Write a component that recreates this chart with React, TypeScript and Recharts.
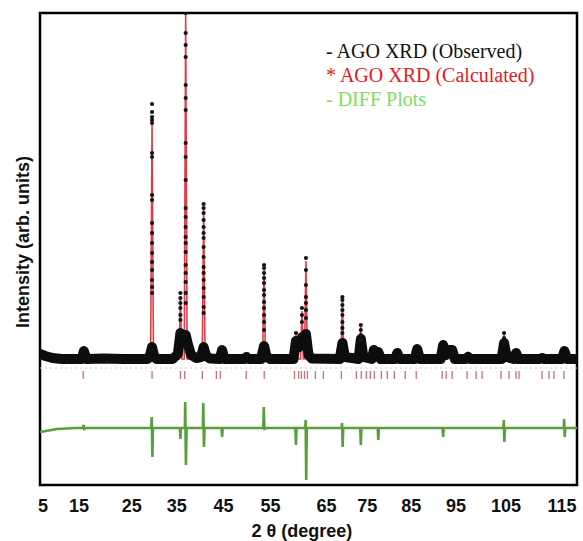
import {
  ComposedChart,
  Line,
  Scatter,
  XAxis,
  YAxis,
  ReferenceArea,
  Legend,
} from "recharts";

// x axis: tick label positions (2θ) and the printed labels
const xTickAt = [5, 12.62, 23.83, 33.35, 43.29, 53.23, 65.08, 73.75, 83.06, 92.58, 103.16, 115];
const xTickText = ["5", "15", "25", "35", "45", "55", "65", "75", "85", "95", "105", "115"];

// observed pattern: centre of the dense band of points (incl. peak bases)
const bandAngle = [
  4.37, 5.5, 7, 9, 13.2, 13.67, 14.2, 18, 22, 27.2, 27.7, 28.12, 28.5, 29.0, 32.5, 33.6,
  34.13, 34.7, 35.25, 35.7, 36.4, 37.5, 38.5, 39.06, 39.6, 40.4, 42.5, 42.97, 43.5, 47.7,
  48.16, 48.6, 51.2, 51.86, 52.4, 53.2, 58.1, 58.63, 59.3, 59.9, 60.3, 60.74, 61.3, 62.0,
  67.9, 68.47, 69.0, 71.9, 72.38, 72.9, 74.7, 75.13, 75.6, 76.08, 76.6, 79.6, 80.1, 80.6,
  83.8, 84.33, 84.9, 89.3, 89.83, 90.4, 91.1, 91.74, 92.3, 94.6, 95.12, 95.6, 102.2, 102.74,
  103.3, 104.8, 105.28, 105.8, 110.3, 110.78, 111.3, 115.0, 115.54, 116.1, 118.2,
];
const bandInt = [
  50, 30, 10, 0, 0, 80, 0, 5, 0, 0, 40, 120, 40, 0, 0, 50,
  260, 200, 240, 150, 40, 10, 20, 120, 30, 5, 0, 90, 0, 0,
  20, 0, 0, 130, 20, 0, 0, 180, 120, 220, 180, 250, 40, 5,
  0, 160, 20, 0, 200, 20, 0, 90, 30, 70, 0, 0, 60, 0,
  0, 100, 0, 0, 140, 40, 90, 90, 0, 0, 20, 0, 0, 160,
  20, 0, 60, 0, 0, 10, 0, 0, 80, 0, 0,
];

// observed points on the flanks of the strong reflections
const dotAngle = [
  28.12, 28.12, 28.12, 28.12, 28.12, 28.12, 28.12, 28.12, 28.12, 28.12, 28.12, 28.12, 28.12, 28.12, 28.12, 28.12, 28.12, 28.12,
  34.13, 34.13, 34.13, 34.13, 34.13, 34.13,
  35.25, 35.25, 35.25, 35.25, 35.25, 35.25, 35.25, 35.25, 35.25, 35.25, 35.25, 35.25, 35.25, 35.25, 35.25, 35.25, 35.25, 35.25, 35.25, 35.25, 35.25,
  39.06, 39.06, 39.06, 39.06, 39.06, 39.06, 39.06, 39.06, 39.06, 39.06, 39.06, 39.06, 39.06, 39.06, 39.06, 39.06,
  51.86, 51.86, 51.86, 51.86, 51.86, 51.86, 51.86, 51.86, 51.86, 51.86, 51.86, 51.86,
  58.63, 58.63, 59.9, 59.9, 59.9,
  60.74, 60.74, 60.74, 60.74, 60.74, 60.74, 60.74,
  68.47, 68.47, 68.47, 68.47, 68.47, 68.47, 68.47, 68.47,
  72.38, 72.38, 72.38, 72.38,
  102.74, 102.74, 102.74,
];
const dotInt = [
  2550, 2470, 2420, 2390, 2360, 2060, 2020, 1640, 1590, 1360, 1260, 1160, 1060, 970, 890, 790, 720, 660,
  660, 610, 560, 510, 440, 390,
  3460, 3260, 3140, 3020, 2740, 2610, 2490, 2160, 2020, 1790, 1510, 1420, 1320, 1220, 1160, 1070, 940, 860, 770, 660, 560,
  1550, 1510, 1460, 1390, 1320, 1260, 1210, 1120, 1020, 920, 860, 790, 710, 620, 520, 460,
  940, 910, 860, 810, 760, 690, 640, 570, 510, 440, 370, 290,
  260, 210, 510, 440, 370,
  1010, 890, 740, 620, 560, 490, 410,
  620, 590, 540, 490, 440, 370, 310, 260,
  340, 290, 240, 190,
  260, 210, 160,
];

// calculated profile
const calcAngle = [
  4.37, 13.37, 13.67, 13.97, 27.82, 28.12, 28.42, 33.83, 34.13, 34.43, 34.95, 35.25, 35.55,
  38.76, 39.06, 39.36, 42.67, 42.97, 43.27, 47.86, 48.16, 48.46, 51.56, 51.86, 52.16,
  58.33, 58.63, 58.93, 59.6, 59.9, 60.2, 60.44, 60.74, 61.04, 68.17, 68.47, 68.77,
  72.08, 72.38, 72.68, 74.83, 75.13, 75.43, 75.78, 76.08, 76.38, 79.8, 80.1, 80.4,
  84.03, 84.33, 84.63, 89.53, 89.83, 90.13, 90.8, 91.1, 91.4, 91.74, 92.04, 94.82, 95.12, 95.42,
  102.44, 102.74, 103.04, 104.98, 105.28, 105.58, 110.48, 110.78, 111.08, 115.24, 115.54, 115.84, 118.2,
];
const calcInt = [
  0, 0, 110, 0, 0, 2360, 0, 0, 600, 0, 0, 3460, 0,
  0, 1500, 0, 0, 120, 0, 0, 30, 0, 0, 900, 0,
  0, 240, 0, 0, 480, 0, 0, 980, 0, 0, 600, 0,
  0, 320, 0, 0, 120, 0, 0, 100, 0, 0, 100, 0,
  0, 130, 0, 0, 170, 0, 0, 120, 0, 120, 0, 0, 50, 0,
  0, 240, 0, 0, 100, 0, 0, 20, 0, 0, 110, 0, 0,
];

// fitted background
const bkgAngle = [4.37, 118.2];
const bkgInt = [-90, -90];

// difference curve (observed - calculated, offset)
const diffAngle = [
  4.37, 8, 12, 13.5, 13.6, 13.75, 13.9, 20, 27.95, 28.05, 28.2, 28.3,
  34.0, 34.13, 34.25, 35.08, 35.15, 35.3, 35.45, 38.9, 38.98, 39.12, 39.25,
  42.85, 42.97, 43.1, 51.7, 51.8, 51.95, 52.05, 58.5, 58.63, 58.75,
  60.6, 60.68, 60.8, 60.92, 68.3, 68.4, 68.52, 68.65, 72.25, 72.38, 72.5,
  75.95, 76.08, 76.2, 89.7, 89.83, 89.95, 102.6, 102.68, 102.8, 102.92,
  115.4, 115.48, 115.6, 115.72, 118.2,
];
const diffInt = [
  -730, -700, -690, -690, -660, -710, -690, -690, -690, -580, -980, -690,
  -690, -800, -690, -690, -430, -1060, -690, -690, -440, -880, -690,
  -690, -780, -690, -690, -480, -710, -690, -690, -860, -690,
  -690, -610, -1210, -690, -690, -640, -880, -690, -690, -860, -690,
  -690, -810, -690, -690, -780, -690, -690, -610, -830, -690,
  -690, -600, -780, -690, -690,
];

// Bragg reflection markers
const braggAngle = [
  13.52, 28.12, 34.13, 35.04, 38.78, 41.75, 42.59, 48.09, 51.9, 58.31, 59.22, 59.79, 60.43,
  61.06, 62.75, 64.44, 68.25, 71.43, 72.48, 73.54, 74.39, 75.23, 76.72, 77.98, 79.47, 81.79,
  84.12, 89.62, 90.47, 91.74, 94.91, 96.81, 98.08, 102.1, 103.79, 105.27, 105.91, 110.78,
  112.26, 113.31, 115.43,
];
const braggLevel = -160;

const X_MIN = 4.37;
const X_MAX = 118.2;
const Y_MIN = -1260;
const Y_MAX = 3460;

const toPoints = (xs: number[], ys: number[]) => xs.map((x, i) => ({ x, y: ys[i] }));

const bandData = toPoints(bandAngle, bandInt);
const dotData = toPoints(dotAngle, dotInt);
const calcData = toPoints(calcAngle, calcInt);
const bkgData = toPoints(bkgAngle, bkgInt);
const diffData = toPoints(diffAngle, diffInt);
const braggData = braggAngle.map((x) => ({ x, y: braggLevel }));

const SANS = "'Liberation Sans', Arial, sans-serif";
const SERIF = "'Liberation Serif', 'Times New Roman', serif";

function LegendBox() {
  const row = { whiteSpace: "nowrap" as const, height: 24, lineHeight: "24px" };
  return (
    <div style={{ fontFamily: SERIF, fontSize: 20 }}>
      <div style={{ ...row, color: "#111" }}>- AGO XRD (Observed)</div>
      <div style={{ ...row, color: "#e5191f" }}>* AGO XRD (Calculated)</div>
      <div style={{ ...row, color: "#7edd5f" }}>- DIFF Plots</div>
    </div>
  );
}

export default function App() {
  return (
    <div style={{ position: "absolute", left: 0, top: 0, width: 583, height: 541, background: "#fff" }}>
      <ComposedChart width={583} height={541} margin={{ top: 13, right: 6, bottom: 6, left: 0 }}>
        <XAxis
          type="number"
          dataKey="x"
          domain={[X_MIN, X_MAX]}
          allowDataOverflow
          ticks={xTickAt}
          interval={0}
          tickFormatter={(v: number) => xTickText[xTickAt.indexOf(v)] ?? ""}
          tickLine={false}
          axisLine={false}
          tickSize={6}
          tickMargin={8}
          height={50}
          tick={{ fontSize: 18, fontWeight: "bold", fill: "#111", fontFamily: SANS }}
          label={{
            content: () => (
              <text x={302} y={537} textAnchor="middle" fontSize={18} fontWeight="bold" fill="#111" fontFamily={SANS}>
                2 θ (degree)
              </text>
            ),
          }}
        />
        <YAxis
          type="number"
          dataKey="y"
          domain={[Y_MIN, Y_MAX]}
          allowDataOverflow
          width={40}
          tick={false}
          tickLine={false}
          axisLine={false}
          label={{
            content: () => (
              <text
                x={23}
                y={242}
                transform="rotate(-90 23 242)"
                textAnchor="middle"
                dominantBaseline="central"
                fontSize={18}
                fontWeight="bold"
                fill="#111"
                fontFamily={SANS}
              >
                Intensity (arb. units)
              </text>
            ),
          }}
        />
        <Legend
          content={() => <LegendBox />}
          layout="vertical"
          align="center"
          verticalAlign="middle"
          wrapperStyle={{ left: 326, top: 39, width: 255, height: 80 }}
        />
        <Line
          data={bkgData}
          dataKey="y"
          stroke="#dcc4c7"
          strokeWidth={1}
          strokeDasharray="2 3"
          dot={false}
          isAnimationActive={false}
          legendType="none"
        />
        <Scatter
          data={braggData}
          dataKey="y"
          isAnimationActive={false}
          legendType="none"
          shape={(p: any) => (
            <line x1={p.cx} x2={p.cx} y1={p.cy - 4} y2={p.cy + 4} stroke="#c9717c" strokeWidth={1.3} />
          )}
        />
        <Line
          data={diffData}
          dataKey="y"
          type="linear"
          stroke="#58a03c"
          strokeWidth={2.6}
          dot={false}
          isAnimationActive={false}
          legendType="none"
        />
        <Line
          data={calcData}
          dataKey="y"
          type="linear"
          stroke="#e03c48"
          strokeWidth={1.6}
          dot={false}
          isAnimationActive={false}
          legendType="none"
        />
        <Line
          data={bandData}
          dataKey="y"
          type="linear"
          stroke="#0d0d0d"
          strokeWidth={10}
          strokeLinejoin="round"
          strokeLinecap="round"
          dot={false}
          isAnimationActive={false}
          legendType="none"
        />
        <Scatter
          data={dotData}
          dataKey="y"
          isAnimationActive={false}
          legendType="none"
          shape={(p: any) => <circle cx={p.cx} cy={p.cy} r={2.1} fill="#151515" />}
        />
        <ReferenceArea
          x1={X_MIN}
          x2={X_MAX}
          y1={Y_MIN}
          y2={Y_MAX}
          fill="none"
          fillOpacity={0}
          stroke="#000"
          strokeWidth={2.5}
          ifOverflow="visible"
        />
      </ComposedChart>
    </div>
  );
}
